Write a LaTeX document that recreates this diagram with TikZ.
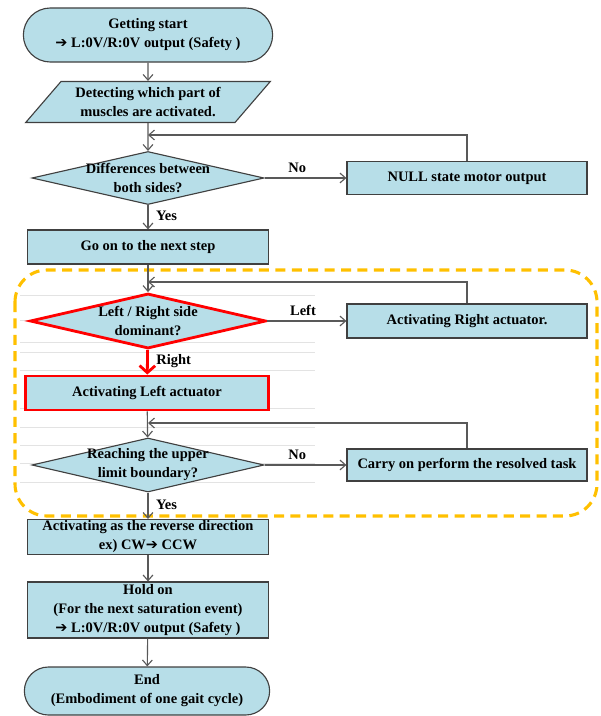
\documentclass[tikz,border=0pt]{standalone}
\usepackage{fontspec}
\setmainfont{Liberation Serif}
\newfontfamily\arrowfont{DejaVu Sans}
\usetikzlibrary{shapes.geometric,shapes.misc,arrows.meta}
\definecolor{boxfill}{HTML}{B7DEE8}
\definecolor{boxline}{HTML}{404040}
\definecolor{linkline}{HTML}{595959}
\definecolor{dashgold}{HTML}{FFC000}
\newcommand{\safearrow}{{\arrowfont\bfseries ➔}}

\begin{document}
\begin{tikzpicture}[x=0.025cm, y=-0.025cm,
    every node/.style={font=\bfseries\fontsize{10.3}{13.5}\selectfont, align=center},
    box/.style={rectangle, draw=boxline, fill=boxfill, line width=0.8pt, minimum width=6.025cm, minimum height=0.85cm, inner sep=1pt},
    terminal/.style={rounded rectangle, draw=boxline, fill=boxfill, line width=0.8pt, minimum height=1.35cm, minimum width=6.3cm, inner sep=1pt},
    inout/.style={trapezium, trapezium left angle=47, trapezium right angle=133, trapezium stretches=true, draw=boxline, fill=boxfill, line width=0.8pt, minimum width=6.125cm, minimum height=1.025cm, inner sep=1pt},
    decision/.style={diamond, aspect=4.2, draw=boxline, fill=boxfill, line width=0.8pt, minimum width=5.8cm, minimum height=1.325cm, inner xsep=-9pt, inner ysep=-2pt},
    marked/.style={draw=red, line width=2pt},
    link/.style={draw=linkline, line width=0.8pt, -{Straight Barb[length=4pt,width=7pt]}},
    plain/.style={draw=linkline, line width=0.8pt},
    redlink/.style={draw=red, line width=2pt, -{Straight Barb[length=5pt,width=11pt]}},
    gridline/.style={draw=gray!22, line width=0.4pt},
    zone/.style={draw=dashgold, line width=2.2pt, dash pattern=on 0.25cm off 0.16cm, rounded corners=0.8cm}]
    \useasboundingbox (0,0) rectangle (600,716);

    \foreach \gy in {295,320,342,352,370,408,427,445,463,482}
        \draw[gridline] (20,\gy) -- (315,\gy);
    \draw[zone] (15,270) rectangle (597,516);

    \node[terminal] (start) at (148,35) {Getting start\\\safearrow\ L:0V/R:0V output (Safety )};
    \node[inout] (detect) at (148,102) {Detecting which part of\\muscles are activated.};
    \node[decision] (diff) at (148,178) {Differences between\\both sides?};
    \node[box, minimum width=6cm, minimum height=0.825cm] (null) at (467,178) {NULL state motor output};
    \node[box] (go) at (148,247) {Go on to the next step};
    \node[decision, marked, minimum width=5.9cm, minimum height=1.375cm] (dom) at (148,321) {Left / Right side\\dominant?};
    \node[box, minimum width=6cm] (rightact) at (467,321) {Activating Right actuator.};
    \node[box, marked, minimum width=6.075cm] (leftact) at (147,393) {Activating Left actuator};
    \node[decision, minimum height=1.35cm] (reach) at (148,465) {Reaching the upper\\limit boundary?};
    \node[box, minimum width=6cm, minimum height=0.8cm] (carry) at (467,465) {Carry on perform the resolved\ task};
    \node[box] (reverse) at (148,537) {Activating as the reverse direction\\ex) CW\safearrow\ CCW};
    \node[box, minimum height=1.4cm] (hold) at (148,610) {Hold on\\(For the next saturation event)\\\safearrow\ L:0V/R:0V output (Safety )};
    \node[terminal, minimum width=6.2cm, minimum height=1.2cm] (end) at (147,691) {End\\(Embodiment of one gait cycle)};

    \coordinate (back1) at (148,135);
    \coordinate (back2) at (148,282);
    \coordinate (back3) at (148,423);

    \draw[link] (start) -- (detect);
    \draw[link] (detect) -- (diff);
    \draw[link] (diff) -- node[above, pos=0.4] {No} (null);
    \draw[link] (null.north) |- (back1);
    \draw[link] (diff) -- node[right, pos=0.45, xshift=2pt] {Yes} (go);
    \draw[link] (go) -- (dom);
    \draw[link] (dom) -- node[above, pos=0.45] {Left} (rightact);
    \draw[link] (rightact.north) |- (back2);
    \draw[redlink] (dom) -- node[right, pos=0.45, xshift=2pt] {Right} (leftact);
    \draw[link] (leftact) -- (reach);
    \draw[link] (reach) -- node[above, pos=0.4] {No} (carry);
    \draw[link] (carry.north) |- (back3);
    \draw[link] (reach) -- node[right, pos=0.45, xshift=2pt] {Yes} (reverse);
    \draw[link] (reverse) -- (hold);
    \draw[link] (hold) -- (end);
\end{tikzpicture}
\end{document}
